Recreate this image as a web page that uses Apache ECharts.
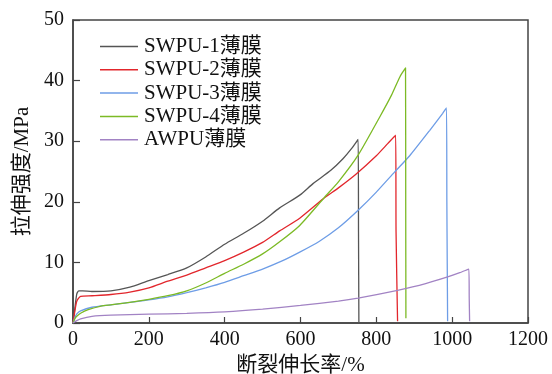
<!DOCTYPE html>
<html>
<head>
<meta charset="utf-8">
<script src="https://cdn.jsdelivr.net/npm/echarts@6/dist/echarts.min.js"></script>
<style>
  html, body { margin: 0; padding: 0; background: #fff; }
  #chart { width: 552px; height: 374px; }
</style>
</head>
<body>
<div id="chart"></div>
<script>
// 数据: [断裂伸长率/%, 拉伸强度/MPa]
var names = ['SWPU-1薄膜', 'SWPU-2薄膜', 'SWPU-3薄膜', 'SWPU-4薄膜', 'AWPU薄膜'];
var colors = ['#555555', '#e2262c', '#6e9de6', '#7cba25', '#a283c4'];

var swpu1 = [[0,0],[5,2.5],[10,4.8],[15,5.3],[25,5.3],[50,5.2],[100,5.3],[150,5.9],[200,7.0],[250,8.0],[300,9.1],[350,10.9],[400,13.0],[450,14.8],[500,16.8],[545,19.0],[598,21.1],[633,23.0],[680,25.2],[712,27.1],[735,28.8],[752,30.3],[753,15],[754,0]];
var swpu2 = [[0,0],[5,2],[10,3.6],[20,4.4],[50,4.5],[100,4.7],[150,5.1],[200,5.8],[250,6.9],[300,7.9],[350,9.1],[400,10.3],[450,11.7],[500,13.3],[545,15.2],[598,17.3],[660,20.5],[700,22.3],[747,24.6],[800,27.6],[830,29.6],[851,31.0],[852,15],[856,0.3]];
var swpu3 = [[0,0],[5,0.9],[10,1.5],[20,2.0],[50,2.6],[100,3.0],[150,3.4],[200,3.8],[250,4.3],[300,5.0],[350,5.8],[400,6.7],[450,7.8],[500,8.9],[550,10.2],[598,11.7],[650,13.5],[700,15.7],[752,18.6],[800,21.6],[848,24.9],[888,27.6],[941,31.8],[975,34.6],[985,35.5],[986,20],[987,9.8],[988,0.3]];
var swpu4 = [[0,0],[5,0.7],[10,1.1],[20,1.6],[40,2.2],[74,2.8],[100,3.0],[150,3.4],[200,3.9],[250,4.5],[300,5.3],[350,6.6],[400,8.2],[450,9.7],[500,11.4],[545,13.4],[598,16.1],[664,20.8],[700,23.3],[752,27.7],[809,34.0],[840,37.6],[862,40.6],[877,42.1],[877.5,20],[878,0.8]];
var awpu = [[0,0],[10,0.4],[20,0.7],[50,1.1],[100,1.3],[200,1.45],[300,1.6],[400,1.85],[500,2.3],[600,2.9],[700,3.6],[752,4.1],[856,5.4],[930,6.5],[988,7.6],[1020,8.3],[1044,8.9],[1045,4],[1046,0.3]];

var seriesData = [swpu1, swpu2, swpu3, swpu4, awpu];
var xTicks = [0, 200, 400, 600, 800, 1000, 1200];
var yTicks = [0, 10, 20, 30, 40, 50];

var font = '"Liberation Serif", "Noto Sans CJK SC", serif';

var myChart = echarts.init(document.getElementById('chart'));

var option = {
    backgroundColor: '#ffffff',
    animation: false,
    grid: {
        left: 73,
        right: 24,
        top: 20,
        bottom: 51,
        show: true,
        borderColor: '#444444',
        borderWidth: 1.5,
        containLabel: false,
        outerBoundsMode: 'none'
    },
    legend: {
        orient: 'vertical',
        left: 95,
        top: 31,
        icon: 'rect',
        itemWidth: 38,
        itemHeight: 1.5,
        itemGap: 2.3,
        data: names,
        textStyle: {
            fontFamily: font,
            fontSize: 21,
            lineHeight: 21,
            color: '#111111',
            padding: [0, 0, 0, 1]
        }
    },
    xAxis: {
        type: 'value',
        min: xTicks[0],
        max: xTicks[xTicks.length - 1],
        interval: 200,
        name: '断裂伸长率/%',
        nameLocation: 'middle',
        nameGap: 30,
        nameTextStyle: { fontFamily: font, fontSize: 21, color: '#111' },
        axisLine: { lineStyle: { color: '#444444', width: 1.5 } },
        axisTick: { inside: true, length: 6, lineStyle: { color: '#444444', width: 1.2 } },
        axisLabel: { fontFamily: font, fontSize: 20, color: '#111', margin: 7, formatter: function (v) { return String(v); } },
        splitLine: { show: false }
    },
    yAxis: {
        type: 'value',
        min: yTicks[0],
        max: yTicks[yTicks.length - 1],
        interval: 10,
        name: '拉伸强度/MPa',
        nameLocation: 'middle',
        nameGap: 38,
        nameRotate: 90,
        nameTextStyle: { fontFamily: font, fontSize: 21, color: '#111' },
        axisLine: { lineStyle: { color: '#444444', width: 1.5 } },
        axisTick: { inside: true, length: 7, lineStyle: { color: '#444444', width: 1.2 } },
        axisLabel: { fontFamily: font, fontSize: 20, color: '#111', margin: 9, formatter: function (v) { return String(v); } },
        splitLine: { show: false }
    },
    series: names.map(function (n, i) {
        return {
            name: n,
            type: 'line',
            data: seriesData[i],
            symbol: 'none',
            smooth: 0.2,
            color: colors[i],
            lineStyle: { width: 1.3, color: colors[i] }
        };
    })
};

myChart.setOption(option);
</script>
</body>
</html>
